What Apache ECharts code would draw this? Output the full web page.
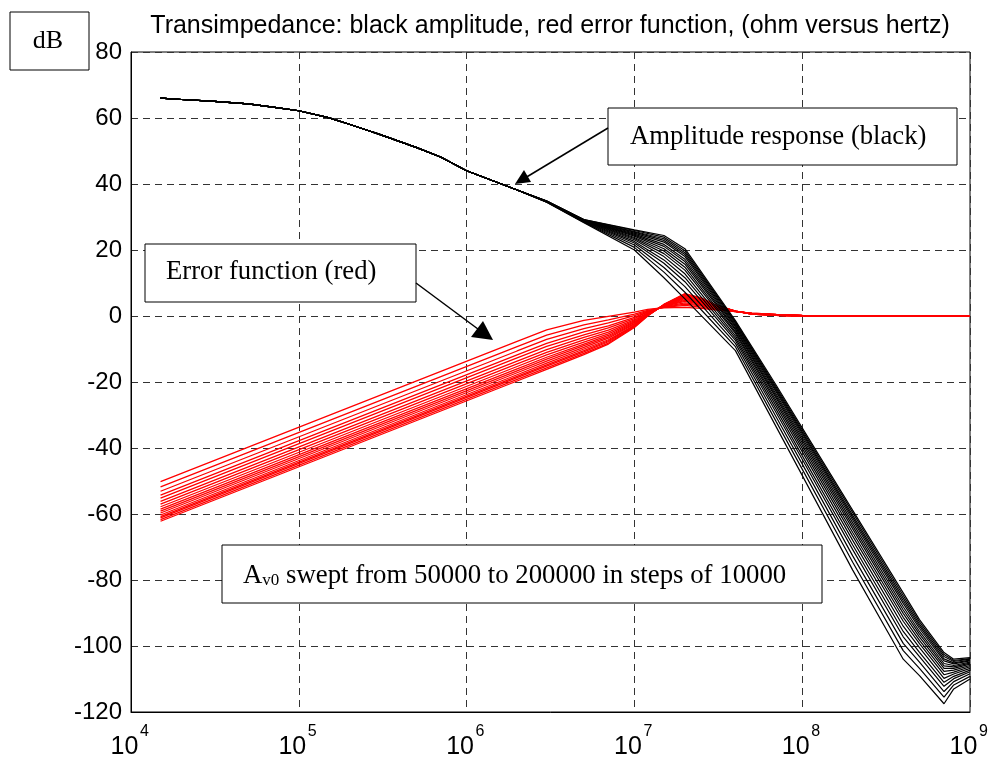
<!DOCTYPE html>
<html><head><meta charset="utf-8">
<script src="https://cdn.jsdelivr.net/npm/echarts@6/dist/echarts.min.js"></script>
<style>html,body{margin:0;padding:0;background:#fff}#c{width:990px;height:758px}</style>
</head><body><div id="c"></div>
<script>
// ---- tick labels ----
const xTickExponents = [4, 5, 6, 7, 8, 9];
const yTickValues = [-120, -100, -80, -60, -40, -20, 0, 20, 40, 60, 80];
const sweepAv0 = [50000, 60000, 70000, 80000, 90000, 100000, 110000, 120000, 130000, 140000, 150000, 160000, 170000, 180000, 190000, 200000];

// ---- red error-function curves (dB) ----
const redFreq = [15000, 2e6, 3e6, 5e6, 7e6, 1e7, 1.2e7, 1.5e7, 2e7, 2.5e7, 3e7, 4e7, 5e7, 7e7, 1e8, 1e9];
const red50k  = [-50.2, -7.7, -4.2, -1.3, -0.1, 1.2, 2.0, 2.5, 2.6, 2.3, 1.9, 1.3, 0.9, 0.5, 0.2, 0];
const red60k  = [-51.8, -9.3, -5.8, -2.7, -1.2, 0.6, 1.7, 2.6, 3.2, 2.7, 2.1, 1.3, 0.9, 0.5, 0.2, 0];
const red70k  = [-53.1, -10.6, -7.1, -3.8, -2.1, 0.1, 1.5, 2.7, 3.6, 3.1, 2.3, 1.3, 0.8, 0.4, 0.2, 0];
const red80k  = [-54.3, -11.8, -8.3, -4.8, -3.0, -0.4, 1.3, 2.8, 4.0, 3.4, 2.4, 1.4, 0.8, 0.4, 0.1, 0];
const red90k  = [-55.2, -12.7, -9.2, -5.7, -3.6, -0.8, 1.2, 2.9, 4.4, 3.6, 2.6, 1.4, 0.8, 0.4, 0.1, 0];
const red100k = [-56.2, -13.7, -10.2, -6.5, -4.3, -1.2, 1.0, 3.0, 4.7, 3.9, 2.7, 1.4, 0.8, 0.4, 0.1, 0];
const red110k = [-57.0, -14.5, -11.0, -7.2, -4.9, -1.5, 0.9, 3.1, 5.0, 4.1, 2.8, 1.4, 0.7, 0.3, 0.1, 0];
const red120k = [-57.8, -15.3, -11.8, -7.9, -5.4, -1.8, 0.7, 3.1, 5.3, 4.3, 2.9, 1.4, 0.7, 0.3, 0.1, 0];
const red130k = [-58.5, -16.0, -12.5, -8.5, -5.9, -2.0, 0.6, 3.2, 5.5, 4.5, 3.0, 1.4, 0.7, 0.3, 0.1, 0];
const red140k = [-59.1, -16.6, -13.1, -9.0, -6.3, -2.3, 0.5, 3.2, 5.7, 4.7, 3.1, 1.4, 0.7, 0.3, 0.1, 0];
const red150k = [-59.7, -17.2, -13.7, -9.5, -6.7, -2.5, 0.4, 3.3, 5.9, 4.8, 3.2, 1.5, 0.7, 0.3, 0, 0];
const red160k = [-60.3, -17.8, -14.3, -10.0, -7.2, -2.8, 0.3, 3.3, 6.1, 5.0, 3.2, 1.5, 0.6, 0.2, 0, 0];
const red170k = [-60.8, -18.3, -14.8, -10.5, -7.5, -2.9, 0.2, 3.4, 6.3, 5.1, 3.3, 1.5, 0.6, 0.2, 0, 0];
const red180k = [-61.2, -18.7, -15.2, -10.9, -7.8, -3.1, 0.2, 3.4, 6.5, 5.2, 3.4, 1.5, 0.6, 0.2, 0, 0];
const red190k = [-61.7, -19.2, -15.7, -11.3, -8.2, -3.3, 0.1, 3.5, 6.6, 5.4, 3.4, 1.5, 0.6, 0.2, 0, 0];
const red200k = [-62.2, -19.7, -16.2, -11.7, -8.5, -3.5, 0.0, 3.5, 6.8, 5.5, 3.5, 1.5, 0.6, 0.2, 0, 0];

// ---- black amplitude curves (dB) ----
const blackFreqCommon = [15000, 20000, 30000, 50000, 70000, 1e5, 1.5e5, 2e5, 3e5, 5e5, 7e5, 1e6, 1.5e6, 2e6];
const blackCommon     = [66.0, 65.6, 65.1, 64.3, 63.3, 62.2, 60.1, 58.1, 55.1, 51.1, 48.2, 44.0, 40.6, 38.2];
const blackFreqTail = [3e6, 5e6, 1e7, 1.5e7, 2e7, 4e7, 7e7, 1e8, 2e8, 4e8, 5e8, 7e8, 8e8, 1e9];
const black50k  = [34.5, 28.3, 20.0, 11.6, 5.2, -10.5, -33.6, -48.3, -77.0, -104.0, -109.0, -117.5, -113.0, -110.0];
const black60k  = [34.5, 28.4, 20.8, 13.3, 7.2, -9.3, -32.0, -46.4, -74.6, -101.4, -106.8, -115.5, -111.8, -109.2];
const black70k  = [34.6, 28.5, 21.5, 14.7, 8.9, -8.3, -30.6, -44.8, -72.7, -99.2, -104.9, -113.8, -110.8, -108.4];
const black80k  = [34.6, 28.6, 22.1, 16.0, 10.4, -7.4, -29.3, -43.4, -70.8, -97.2, -103.2, -112.2, -109.9, -107.8];
const black90k  = [34.6, 28.7, 22.6, 17.0, 11.6, -6.7, -28.3, -42.3, -69.4, -95.6, -101.9, -111.0, -109.2, -107.3];
const black100k = [34.7, 28.8, 23.1, 18.0, 12.8, -6.0, -27.3, -41.1, -68.0, -94.0, -100.5, -109.8, -108.5, -106.8];
const black110k = [34.7, 28.8, 23.5, 18.9, 13.9, -5.3, -26.4, -40.1, -66.7, -92.5, -99.3, -108.7, -107.9, -106.3];
const black120k = [34.7, 28.9, 23.8, 19.7, 14.8, -4.8, -25.7, -39.2, -65.6, -91.3, -98.3, -107.7, -107.3, -105.9];
const black130k = [34.7, 28.9, 24.2, 20.4, 15.7, -4.2, -24.9, -38.4, -64.5, -90.1, -97.3, -106.8, -106.8, -105.5];
const black140k = [34.7, 29.0, 24.5, 21.1, 16.5, -3.8, -24.3, -37.6, -63.6, -89.1, -96.4, -106.0, -106.3, -105.2];
const black150k = [34.7, 29.0, 24.8, 21.7, 17.2, -3.3, -23.7, -36.9, -62.7, -88.1, -95.6, -105.3, -105.9, -104.9];
const black160k = [34.8, 29.1, 25.1, 22.4, 18.0, -2.9, -23.0, -36.2, -61.8, -87.1, -94.7, -104.5, -105.4, -104.5];
const black170k = [34.8, 29.1, 25.4, 22.9, 18.6, -2.5, -22.5, -35.6, -61.1, -86.3, -94.0, -103.9, -105.1, -104.3];
const black180k = [34.8, 29.1, 25.6, 23.4, 19.2, -2.1, -22.0, -35.1, -60.4, -85.5, -93.4, -103.2, -104.7, -104.0];
const black190k = [34.8, 29.2, 25.9, 23.9, 19.8, -1.8, -21.5, -34.5, -59.6, -84.7, -92.7, -102.6, -104.4, -103.8];
const black200k = [34.8, 29.2, 26.1, 24.4, 20.4, -1.4, -21.0, -33.9, -58.9, -83.9, -92.0, -102.0, -104.0, -103.5];

const redSet = [red50k, red60k, red70k, red80k, red90k, red100k, red110k, red120k, red130k, red140k, red150k, red160k, red170k, red180k, red190k, red200k];
const blackTailSet = [black50k, black60k, black70k, black80k, black90k, black100k, black110k, black120k, black130k, black140k, black150k, black160k, black170k, black180k, black190k, black200k];

const series = [];
redSet.forEach((vals, i) => {
  series.push({
    name: 'err ' + sweepAv0[i], type: 'line', symbol: 'none', silent: true, xAxisIndex: 0,
    lineStyle: { color: '#ff0000', width: 1.3 },
    data: redFreq.map((f, k) => [f, vals[k]]), z: 2
  });
});
const blackFreq = blackFreqCommon.concat(blackFreqTail);
blackTailSet.forEach((tail, i) => {
  const vals = blackCommon.concat(tail);
  series.push({
    name: 'amp ' + sweepAv0[i], type: 'line', symbol: 'none', silent: true, xAxisIndex: 0,
    lineStyle: { color: '#000000', width: 1.2 },
    data: blackFreq.map((f, k) => [f, vals[k]]), z: 3
  });
});

const SANS = '"Liberation Sans", Arial, Helvetica, sans-serif';
const SERIF = '"Liberation Serif", "Times New Roman", serif';
const expOf = v => Math.round(Math.log10(v));

const chart = echarts.init(document.getElementById('c'), null, { renderer: 'canvas' });
chart.setOption({
  animation: false,
  backgroundColor: '#fff',
  title: {
    text: 'Transimpedance: black amplitude, red error function, (ohm versus hertz)',
    left: 545, top: 9, textAlign: 'center',
    textStyle: { fontFamily: SANS, fontSize: 25, fontWeight: 'normal', color: '#000' }
  },
  grid: { left: 131, right: 20, top: 52, bottom: 46, outerBoundsMode: 'none', containLabel: false,
          show: true, borderColor: '#000', borderWidth: 1, backgroundColor: 'transparent' },
  xAxis: [{
    type: 'log', logBase: 10, min: 1e4, max: 1e9, position: 'bottom',
    axisLine: { show: true, onZero: false, lineStyle: { color: '#000', width: 1 } },
    axisTick: { show: false },
    splitLine: { show: true, lineStyle: { color: '#333', width: 1, type: [7, 5] } },
    minorTick: { show: false }, minorSplitLine: { show: false },
    axisLabel: {
      margin: 23, align: 'center', padding: [0, 13, 0, 0],
      fontFamily: SANS, fontSize: 25, color: '#000',
      formatter: v => (xTickExponents.indexOf(expOf(v)) < 0 ? '' : '10')
    }
  }, {
    type: 'log', logBase: 10, min: 1e4, max: 1e9, position: 'bottom',
    axisLine: { show: false }, axisTick: { show: false }, splitLine: { show: false },
    minorTick: { show: false }, minorSplitLine: { show: false },
    axisLabel: {
      margin: 12, align: 'left', padding: [0, 0, 0, 9],
      fontFamily: SANS, fontSize: 16, color: '#000',
      formatter: v => (xTickExponents.indexOf(expOf(v)) < 0 ? '' : String(expOf(v)))
    }
  }],
  yAxis: {
    type: 'value', min: yTickValues[0], max: yTickValues[yTickValues.length - 1], interval: 20,
    axisLine: { show: true, onZero: false, lineStyle: { color: '#000', width: 1 } },
    axisTick: { show: false },
    splitLine: { show: true, lineStyle: { color: '#333', width: 1, type: [7, 5] } },
    axisLabel: { margin: 9, fontFamily: SANS, fontSize: 24, color: '#000' }
  },
  series: series,
  graphic: [
    // dB box
    { type: 'rect', z: 100, shape: { x: 10, y: 12, width: 79, height: 58 }, style: { fill: '#fff', stroke: '#000', lineWidth: 1 } },
    { type: 'text', z: 101, style: { x: 48, y: 41, text: 'dB', fontFamily: SERIF, fontSize: 26, fill: '#000', align: 'center', verticalAlign: 'middle' } },
    // Amplitude box
    { type: 'rect', z: 100, shape: { x: 608, y: 108, width: 349, height: 57 }, style: { fill: '#fff', stroke: '#000', lineWidth: 1 } },
    { type: 'text', z: 101, style: { x: 630, y: 136.5, text: 'Amplitude response (black)', fontFamily: SERIF, fontSize: 26.7, fill: '#000', align: 'left', verticalAlign: 'middle' } },
    // Error box
    { type: 'rect', z: 100, shape: { x: 145, y: 244, width: 271, height: 58 }, style: { fill: '#fff', stroke: '#000', lineWidth: 1 } },
    { type: 'text', z: 101, style: { x: 166, y: 272, text: 'Error function (red)', fontFamily: SERIF, fontSize: 26.7, fill: '#000', align: 'left', verticalAlign: 'middle' } },
    // Av0 box
    { type: 'rect', z: 100, shape: { x: 222, y: 545, width: 600, height: 58 }, style: { fill: '#fff', stroke: '#000', lineWidth: 1 } },
    { type: 'text', z: 101, style: { x: 243, y: 574, text: '{a|A}{s|v0}{a| swept from 50000 to 200000 in steps of 10000}', fill: '#000', align: 'left', verticalAlign: 'middle',
      rich: { a: { fontFamily: SERIF, fontSize: 26.8, color: '#000', verticalAlign: 'bottom', lineHeight: 30 }, s: { fontFamily: SERIF, fontSize: 17, color: '#000', verticalAlign: 'bottom', lineHeight: 24 } } } },
    // arrows
    { type: 'line', z: 100, shape: { x1: 416, y1: 283, x2: 486, y2: 335 }, style: { stroke: '#000', lineWidth: 1.5 } },
    { type: 'polygon', z: 100, shape: { points: [[493, 340], [471, 337], [483, 321]] }, style: { fill: '#000' } },
    { type: 'line', z: 100, shape: { x1: 608, y1: 128, x2: 520, y2: 181 }, style: { stroke: '#000', lineWidth: 1.5 } },
    { type: 'polygon', z: 100, shape: { points: [[515, 184], [531, 182], [524, 170]] }, style: { fill: '#000' } }
  ]
});
</script>
</body></html>
